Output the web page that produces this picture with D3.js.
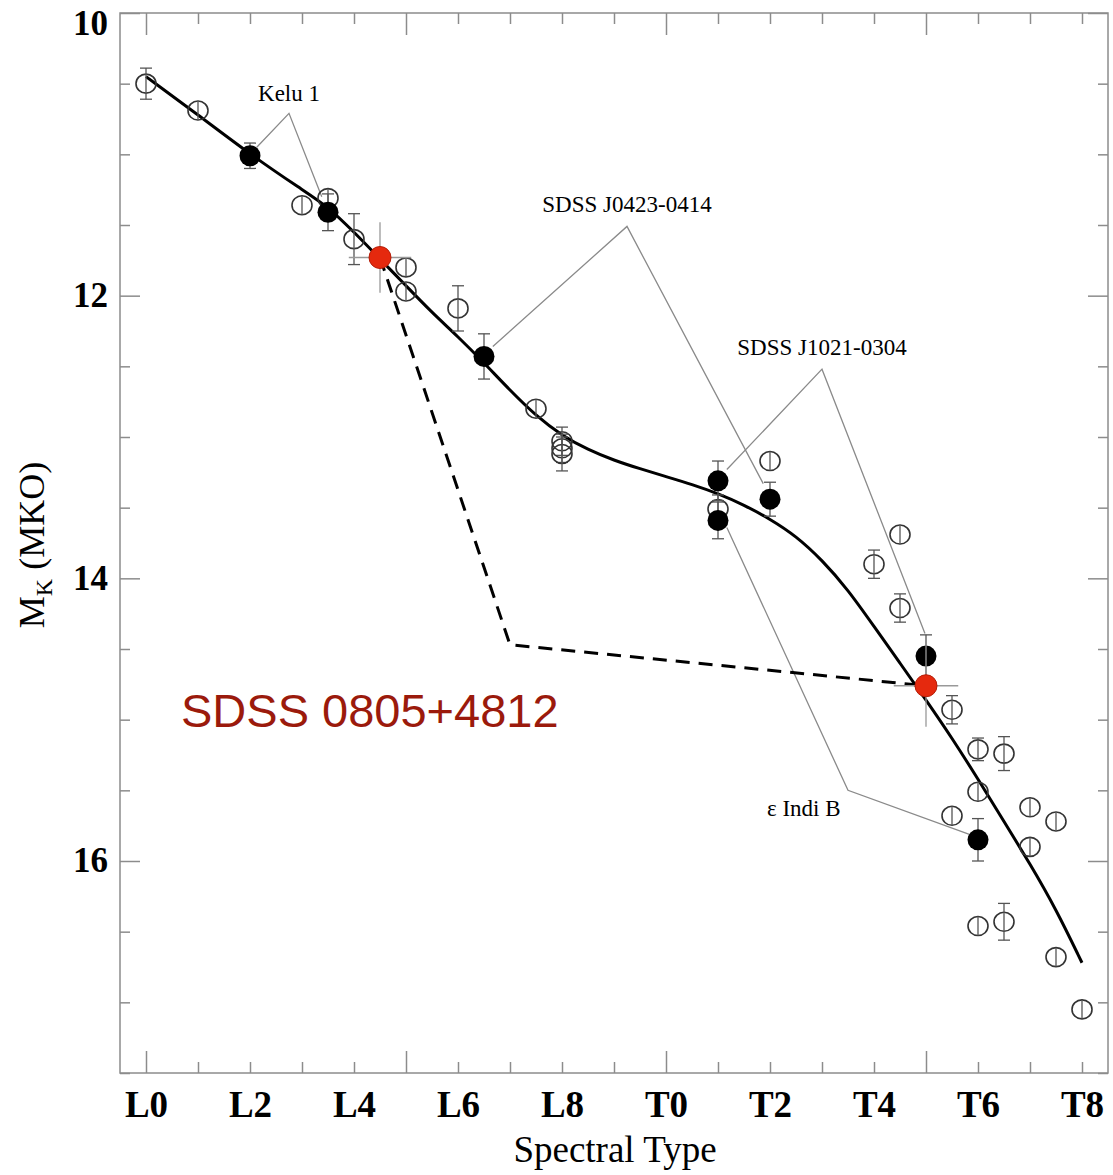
<!DOCTYPE html>
<html><head><meta charset="utf-8">
<script src="https://cdn.jsdelivr.net/npm/d3@7"></script>
<style>body{margin:0;background:#fff}svg{display:block}</style>
</head><body>
<svg id="chart" width="1113" height="1175"></svg>
<script>
// ---- data ----
const xTickValues = [0,2,4,6,8,10,12,14,16,18];
const xTickLabels = ["L0","L2","L4","L6","L8","T0","T2","T4","T6","T8"];
const yTickValues = [10,12,14,16];

// open circles (field dwarfs)
const openSpT = [0,1,3,3.5,4,5,5,6,7.5,8,8,8,11,12,14,14.5,14.5,15.5,16,16.5,16,15.5,17,17.5,17,16,16.5,17.5,18];
const openMK  = [10.50,10.69,11.36,11.31,11.60,11.80,11.97,12.09,12.80,13.03,13.08,13.12,13.51,13.17,13.90,13.69,14.21,14.93,15.21,15.24,15.51,15.68,15.62,15.72,15.90,16.46,16.43,16.68,17.05];
const openErr = [0.11,0.05,0.05,0.05,0.18,0.05,0.05,0.16,0.05,0.10,0.10,0.12,0.10,0.05,0.10,0.05,0.10,0.10,0.08,0.12,0.05,0.05,0.05,0.05,0.05,0.05,0.13,0.05,0.05];

// filled circles (binary components)
const filledSpT = [2,3.5,6.5,11,11,12,15,16];
const filledMK  = [11.01,11.41,12.43,13.31,13.59,13.44,14.55,15.85];
const filledErr = [0.09,0.13,0.16,0.14,0.13,0.12,0.15,0.15];

// red points (SDSS 0805+4812 components)
const redSpT  = [4.5,15];
const redMK   = [11.73,14.76];
const redErrY = [0.25,0.29];
const redErrX = [0.6,0.62];

// polynomial relation (sampled from the figure)
const fitSpT = [0,1,2,3,3.5,4,4.5,5,5.5,6,6.5,7,7.5,8,8.5,9,9.5,10,10.5,11,11.5,12,12.5,13,13.5,14,14.5,15,15.5,16,16.5,17,17.5,18];
const fitMK  = [10.45,10.72,11.00,11.25,11.37,11.55,11.74,11.93,12.12,12.29,12.475,12.67,12.85,12.99,13.09,13.165,13.225,13.28,13.335,13.40,13.48,13.58,13.70,13.87,14.08,14.34,14.60,14.86,15.13,15.42,15.72,16.02,16.34,16.72];

// dashed track
const dashSpT = [4.5,7.0,15];
const dashMK  = [11.73,14.47,14.76];

// annotations: label, label position, leader polylines
const annNames = ["Kelu 1","SDSS J0423-0414","SDSS J1021-0304","\u03b5 Indi B"];
const annLabelSpT = [2.75,9.25,13.0,12.65];
const annLabelMK  = [10.62,11.41,12.42,15.68];
const annLines = [
  [[[2.13,10.95],[2.75,10.71],[3.38,11.30]]],
  [[[6.67,12.36],[9.25,11.51],[11.87,13.33]]],
  [[[11.17,13.23],[13.0,12.52],[14.98,14.39]]],
  [[[11.17,13.64],[13.5,15.50],[15.9,15.82]]]
];
const mainLabel = "SDSS 0805+4812";

// ---- layout ----
const svg = d3.select("#chart");
const L = 120, R = 1108, T = 13, B = 1073;
const x = d3.scaleLinear().domain([-0.5,18.5]).range([L,R]);
const y = d3.scaleLinear().domain([10,17.5]).range([T,B]);
const axisCol = "#8c8c8c";
const serif = "'Liberation Serif','DejaVu Serif',serif";

// frame
svg.append("rect").attr("x",L).attr("y",T).attr("width",R-L).attr("height",B-T)
  .attr("fill","none").attr("stroke",axisCol).attr("stroke-width",1.5);

// x ticks (bottom and top)
const xt = d3.range(0,19);
function tickLenX(v){ return v%5===0 ? 22 : 11; }
const gxb = svg.append("g").attr("transform",`translate(0,${B})`)
  .call(d3.axisBottom(x).tickValues(xt).tickSize(0).tickFormat(""));
gxb.select(".domain").remove();
gxb.selectAll(".tick line").attr("y2",d=>-tickLenX(d)).attr("stroke",axisCol).attr("stroke-width",1.5);
const gxt = svg.append("g").attr("transform",`translate(0,${T})`)
  .call(d3.axisTop(x).tickValues(xt).tickSize(0).tickFormat(""));
gxt.select(".domain").remove();
gxt.selectAll(".tick line").attr("y2",d=>tickLenX(d)).attr("stroke",axisCol).attr("stroke-width",1.5);

// x labels
const gxl = svg.append("g").attr("transform",`translate(0,${B})`)
  .call(d3.axisBottom(x).tickValues(xTickValues).tickSize(0).tickPadding(18)
    .tickFormat((d,i)=>xTickLabels[i]));
gxl.select(".domain").remove();
gxl.selectAll("text").attr("font-family",serif).attr("font-size",37).attr("font-weight","bold").attr("fill","#000");

// y ticks (left and right)
const yt = d3.range(10,17.51,0.5);
function tickLenY(v){ return Math.abs(v%2)<1e-9 ? 20 : 10; }
const gyl = svg.append("g").attr("transform",`translate(${L},0)`)
  .call(d3.axisLeft(y).tickValues(yt).tickSize(0).tickFormat(""));
gyl.select(".domain").remove();
gyl.selectAll(".tick line").attr("x2",d=>tickLenY(d)).attr("stroke",axisCol).attr("stroke-width",1.5);
const gyr = svg.append("g").attr("transform",`translate(${R},0)`)
  .call(d3.axisRight(y).tickValues(yt).tickSize(0).tickFormat(""));
gyr.select(".domain").remove();
gyr.selectAll(".tick line").attr("x2",d=>-tickLenY(d)).attr("stroke",axisCol).attr("stroke-width",1.5);

// y labels
const gyLab = svg.append("g").attr("transform",`translate(${L},0)`)
  .call(d3.axisLeft(y).tickValues(yTickValues).tickSize(0).tickPadding(12).tickFormat(d3.format("d")));
gyLab.select(".domain").remove();
gyLab.selectAll(".tick").attr("transform",d=>`translate(0,${Math.max(y(d),24)})`);
gyLab.selectAll("text").attr("font-family",serif).attr("font-size",35).attr("font-weight","bold").attr("fill","#000");

// axis titles
svg.append("text").attr("x",(L+R)/2+1).attr("y",1162).attr("text-anchor","middle")
  .attr("font-family",serif).attr("font-size",37).attr("fill","#000").text("Spectral Type");
const yt2 = svg.append("text").attr("transform","translate(44,545) rotate(-90)")
  .attr("text-anchor","middle").attr("font-family",serif).attr("font-size",36).attr("fill","#000");
yt2.append("tspan").text("M");
yt2.append("tspan").attr("font-size",24).attr("dy",8).text("K");
yt2.append("tspan").attr("dy",-8).text(" (MKO)");

// annotation leader lines
const lineGen = d3.line().x(d=>x(d[0])).y(d=>y(d[1]));
annLines.forEach(set=>set.forEach(pts=>{
  svg.append("path").attr("d",lineGen(pts)).attr("fill","none")
    .attr("stroke","#8a8a8a").attr("stroke-width",1.3);
}));
annNames.forEach((nm,i)=>{
  svg.append("text").attr("x",x(annLabelSpT[i])).attr("y",y(annLabelMK[i]))
    .attr("text-anchor","middle").attr("font-family",serif).attr("font-size",23)
    .attr("fill","#000").text(nm);
});

// dashed track
svg.append("path").attr("d",lineGen(dashSpT.map((v,i)=>[v,dashMK[i]])))
  .attr("fill","none").attr("stroke","#000").attr("stroke-width",3).attr("stroke-dasharray","14,9");

// fit curve
const fitLine = d3.line().x(d=>x(d[0])).y(d=>y(d[1])).curve(d3.curveBasis);
svg.append("path").attr("d",fitLine(fitSpT.map((v,i)=>[v,fitMK[i]])))
  .attr("fill","none").attr("stroke","#000").attr("stroke-width",3);

// error bars helper
const errCol = "#555";
function vbar(g,cx,m,e,cap){
  const y1=y(m-e), y2=y(m+e);
  g.append("line").attr("x1",cx).attr("x2",cx).attr("y1",y1).attr("y2",y2)
    .attr("stroke",errCol).attr("stroke-width",1.3);
  if(cap){
    [y1,y2].forEach(yy=>g.append("line").attr("x1",cx-6).attr("x2",cx+6).attr("y1",yy).attr("y2",yy)
      .attr("stroke",errCol).attr("stroke-width",1.3));
  }
}

// open circles
const gOpen = svg.append("g");
openSpT.forEach((s,i)=>{
  const cx=x(s), cy=y(openMK[i]);
  const big = (openErr[i]*141.3) > 10;
  gOpen.append("ellipse").attr("cx",cx).attr("cy",cy).attr("rx",10).attr("ry",9.5)
    .attr("fill","none").attr("stroke","#333").attr("stroke-width",1.6);
  vbar(gOpen,cx,openMK[i],Math.max(openErr[i],0.067),big);
});

// filled circles
const gFill = svg.append("g");
filledSpT.forEach((s,i)=>{
  const cx=x(s), cy=y(filledMK[i]);
  vbar(gFill,cx,filledMK[i],filledErr[i],true);
  gFill.append("circle").attr("cx",cx).attr("cy",cy).attr("r",10.5).attr("fill","#000");
});

// red points
const gRed = svg.append("g");
redSpT.forEach((s,i)=>{
  const cx=x(s), cy=y(redMK[i]);
  gRed.append("line").attr("x1",cx).attr("x2",cx).attr("y1",y(redMK[i]-redErrY[i])).attr("y2",y(redMK[i]+redErrY[i]))
    .attr("stroke","#999").attr("stroke-width",1.3);
  gRed.append("line").attr("x1",x(s-redErrX[i])).attr("x2",x(s+redErrX[i])).attr("y1",cy).attr("y2",cy)
    .attr("stroke","#999").attr("stroke-width",1.3);
  gRed.append("circle").attr("cx",cx).attr("cy",cy).attr("r",11).attr("fill","#e5290e")
    .attr("stroke","#b41e08").attr("stroke-width",1);
});

// main label
svg.append("text").attr("x",181).attr("y",727).attr("font-family","'Liberation Sans',Arial,sans-serif")
  .attr("font-size",47).attr("fill","#9b1a0c").text(mainLabel);
</script>
</body></html>
